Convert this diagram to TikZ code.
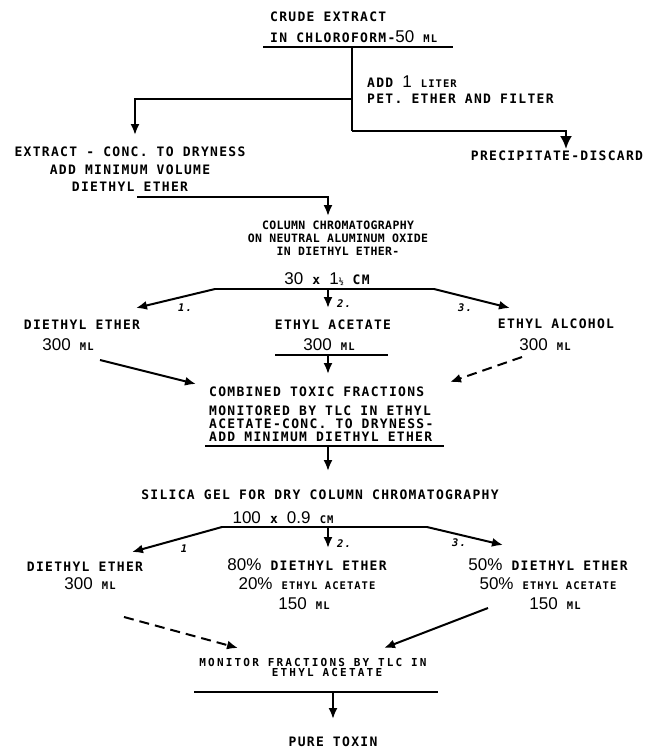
\documentclass[tikz,border=0pt]{standalone}
\usepackage{fontspec}
\setmainfont{DejaVu Sans Mono}[UprightFont={* Bold}, LetterSpace=10]
\newfontfamily\dgf{Liberation Sans}
\newfontfamily\lmn{DejaVu Sans Mono}[UprightFont={* Bold}, LetterSpace=3]
\newfontfamily\lmw{DejaVu Sans Mono}[UprightFont={* Bold}, LetterSpace=20]
\usetikzlibrary{arrows.meta}
\newcommand\dg[1]{{\dgf\fontsize{17}{17}\selectfont #1}}
\newcommand\smc[1]{{\fontsize{10.5}{10}\selectfont #1}}
\tikzset{
  lbl/.style={inner sep=0pt, anchor=base, font=\fontsize{13}{13}\selectfont},
  lblw/.style={lbl, anchor=base west},
  smalltxt/.style={inner sep=0pt, anchor=base, font=\lmn\fontsize{11.5}{12}\selectfont},
  tinytxt/.style={inner sep=0pt, anchor=base, font=\lmw\fontsize{11}{11}\selectfont},
  numlab/.style={inner sep=0pt, anchor=base, font=\fontsize{10.5}{10}\selectfont\bfseries\itshape},
  ln/.style={line width=2.3pt},
  uline/.style={line width=2.5pt},
  arr/.style={line width=2pt, -{Latex[length=11pt,width=9pt]}},
  bigarr/.style={line width=2.3pt, -{Latex[length=13pt,width=12pt]}},
  darr/.style={arr, dash pattern=on 10pt off 6pt},
}
\begin{document}
\begin{tikzpicture}[x=1pt,y=-1pt]
\useasboundingbox (0,0) rectangle (648,748);
\fill[white] (0,0) rectangle (648,748);
% ---------- top ----------
\node[lblw] (crude) at (270,21) {CRUDE EXTRACT};
\node[lblw] (chloro) at (270,42) {IN CHLOROFORM-\dg{50} \smc{ML}};
\coordinate (u1a) at (263,47); \coordinate (u1b) at (453,47);
\draw[uline] (u1a) -- (u1b);
\node[lblw] (add1) at (367,87) {ADD \dg{1} \smc{LITER}};
\node[lblw] (pet) at (367,103) {PET. ETHER AND FILTER};
\coordinate (j0) at (352,47);
\coordinate (j1) at (352,99);
\coordinate (j2) at (352,131);
\coordinate (t1) at (135,135);
\coordinate (t2) at (566,149);
\draw[ln] (j0) -- (j2);
\draw[arr] (j1) -| (t1);
\draw[bigarr] (j2) -| (t2);
\node[lbl] (ext1) at (130,156) {EXTRACT - CONC. TO DRYNESS};
\node[lbl] (ext2) at (130,174) {ADD MINIMUM VOLUME};
\node[lbl] (ext3) at (130,191) {DIETHYL ETHER};
\node[lbl] (precip) at (557,160) {PRECIPITATE-DISCARD};
\coordinate (e1) at (137,197);
\coordinate (t3) at (328,216);
\draw[arr] (e1) -| (t3);
% ---------- column 1 ----------
\node[smalltxt] (col1) at (338,229) {COLUMN CHROMATOGRAPHY};
\node[smalltxt] (col2) at (338,242) {ON NEUTRAL ALUMINUM OXIDE};
\node[smalltxt] (col3) at (338,255) {IN DIETHYL ETHER-};
\node[lbl] (size1) at (327,284) {\dg{30} x \dg{1}{\fontsize{8}{8}\selectfont ½} CM};
\coordinate (b1l) at (215,289); \coordinate (b1r) at (434,289);
\coordinate (b1c) at (328,289);
\coordinate (a1l) at (136,308); \coordinate (a1r) at (510,308);
\coordinate (a1c) at (328,308);
\draw[ln] (b1l) -- (b1r);
\draw[arr] (b1l) -- (a1l);
\draw[arr] (b1r) -- (a1r);
\draw[arr] (b1c) -- (a1c);
\node[numlab] (n11) at (185,311) {1.};
\node[numlab] (n12) at (344,307) {2.};
\node[numlab] (n13) at (465,311) {3.};
\node[lbl] (de1) at (82,329) {DIETHYL ETHER};
\node[lbl] (de1v) at (68,350) {\dg{300} \smc{ML}};
\node[lbl] (ea1) at (333,329) {ETHYL ACETATE};
\node[lbl] (ea1v) at (329,350) {\dg{300} \smc{ML}};
\node[lbl] (al1) at (556,328) {ETHYL ALCOHOL};
\node[lbl] (al1v) at (545,350) {\dg{300} \smc{ML}};
\coordinate (u2a) at (275,355); \coordinate (u2b) at (388,355);
\draw[uline] (u2a) -- (u2b);
\coordinate (c2s) at (328,355); \coordinate (c2t) at (328,374);
\draw[arr] (c2s) -- (c2t);
\coordinate (s1) at (100,360); \coordinate (s1t) at (196,384);
\draw[arr] (s1) -- (s1t);
\coordinate (d1) at (522,357); \coordinate (d1t) at (450,382);
\draw[darr] (d1) -- (d1t);
% ---------- combined ----------
\node[lblw] (cb1) at (209,396) {COMBINED TOXIC FRACTIONS};
\node[lblw] (cb2) at (209,415) {MONITORED BY TLC IN ETHYL};
\node[lblw] (cb3) at (209,428) {ACETATE-CONC. TO DRYNESS-};
\node[lblw] (cb4) at (209,441) {ADD MINIMUM DIETHYL ETHER};
\coordinate (u3a) at (205,446); \coordinate (u3b) at (444,446);
\draw[uline] (u3a) -- (u3b);
\coordinate (c3s) at (328,446); \coordinate (c3t) at (328,471);
\draw[arr] (c3s) -- (c3t);
% ---------- column 2 ----------
\node[lbl] (sil) at (320,499) {SILICA GEL FOR DRY COLUMN CHROMATOGRAPHY};
\node[lbl] (size2) at (283,523) {\dg{100} x \dg{0.9} \smc{CM}};
\coordinate (b2l) at (222,527); \coordinate (b2r) at (427,527);
\coordinate (b2c) at (328,527);
\coordinate (a2l) at (132,552); \coordinate (a2r) at (503,545);
\coordinate (a2c) at (328,548);
\draw[ln] (b2l) -- (b2r);
\draw[arr] (b2l) -- (a2l);
\draw[arr] (b2r) -- (a2r);
\draw[arr] (b2c) -- (a2c);
\node[numlab] (n21) at (184,552) {1};
\node[numlab] (n22) at (344,547) {2.};
\node[numlab] (n23) at (459,546) {3.};
\node[lbl] (de2) at (85,571) {DIETHYL ETHER};
\node[lbl] (de2v) at (90,589) {\dg{300} \smc{ML}};
\node[lbl] (m1a) at (307,570) {\dg{80\%} DIETHYL ETHER};
\node[lbl] (m1b) at (307,589) {\dg{20\%} \smc{ETHYL ACETATE}};
\node[lbl] (m1c) at (304,609) {\dg{150} \smc{ML}};
\node[lbl] (m2a) at (548,570) {\dg{50\%} DIETHYL ETHER};
\node[lbl] (m2b) at (548,589) {\dg{50\%} \smc{ETHYL ACETATE}};
\node[lbl] (m2c) at (555,609) {\dg{150} \smc{ML}};
\coordinate (d2) at (124,617); \coordinate (d2t) at (238,648);
\draw[darr] (d2) -- (d2t);
\coordinate (s2) at (488,608); \coordinate (s2t) at (384,648);
\draw[arr] (s2) -- (s2t);
% ---------- bottom ----------
\node[tinytxt] (mon1) at (313,666) {MONITOR FRACTIONS BY TLC IN};
\node[tinytxt] (mon2) at (327,676) {ETHYL ACETATE};
\coordinate (u4a) at (194,692); \coordinate (u4b) at (438,692);
\draw[uline] (u4a) -- (u4b);
\coordinate (c4s) at (333,692); \coordinate (c4t) at (333,719);
\draw[arr] (c4s) -- (c4t);
\node[lbl] (pure) at (333,746) {PURE TOXIN};
\end{tikzpicture}
\end{document}
